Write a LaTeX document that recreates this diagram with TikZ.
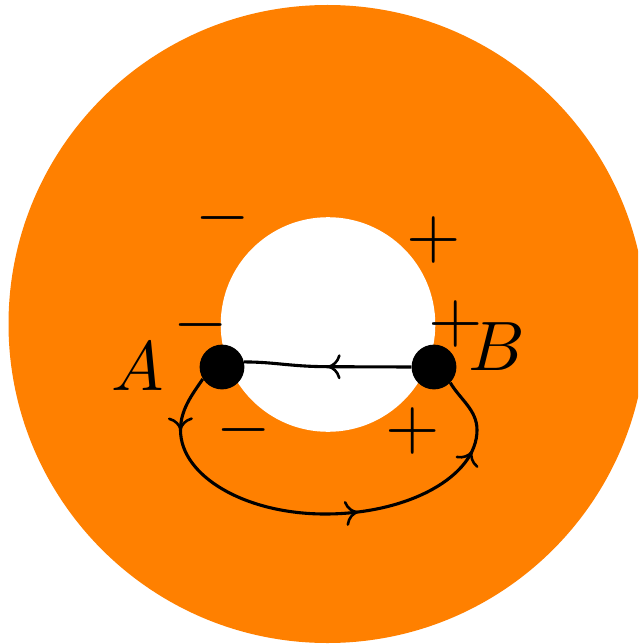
\documentclass[tikz,border=0pt]{standalone}
\usetikzlibrary{arrows.meta,decorations.markings}
\definecolor{diskorange}{RGB}{255,128,0}
\tikzset{
  mytip/.tip={Computer Modern Rightarrow[length=13pt,width=25pt,line width=2.6pt]},
  lab/.style={scale=7,inner sep=0pt},
  dotnode/.style={circle,fill=black,inner sep=0pt,minimum size=44.8pt},
  wire/.style={line width=3.1pt},
  midtip/.style={postaction={decorate,decoration={markings,mark=at position #1 with {\arrow{mytip}}}}},
  looptips/.style={postaction={decorate,decoration={markings,
     mark=at position 0.118 with {\arrow{mytip}},
     mark=at position 0.563 with {\arrow{mytip}},
     mark=at position 0.84 with {\arrow{mytip}}}}}
}
\begin{document}
\begin{tikzpicture}[x=1pt,y=1pt]
\useasboundingbox (0,0) rectangle (638,-644);
\clip (0,0) rectangle (638,-644);
\fill[white] (0,0) rectangle (638,-644);
\fill[diskorange] (327.5,-324) circle[radius=319];
\fill[white] (328,-324.5) circle[radius=107.3];
% points
\node[dotnode] (A) at (222,-367) {};
\node[dotnode] (B) at (434,-367) {};
\coordinate (L) at (180.5,-430);
\coordinate (Bt) at (325,-514);
\coordinate (R) at (477,-430);
\coordinate (M) at (327,-366.7);
% connectors
\draw[wire,midtip=0.5] (B.180) -- (M) .. controls (290,-366.5) and (275,-362) .. (A.13);
\draw[wire,looptips] (A.212) .. controls (191.5,-395.4) and (180.5,-410) .. (L)
  .. controls (180.5,-476) and (245,-514) .. (Bt)
  .. controls (409,-514) and (477,-476) .. (R)
  .. controls (477,-410) and (460.4,-399.7) .. (B.-44);
% labels
\node[lab] (m1) at (222.5,-218.3) {$-$};
\node[lab] (m2) at (200.5,-325) {$-$};
\node[lab] (m3) at (243.7,-430) {$-$};
\node[lab] (p1) at (434,-239.5) {$+$};
\node[lab] (p2) at (455.5,-324) {$+$};
\node[lab] (p3) at (412.5,-430.5) {$+$};
\node[lab] (la) at (138,-366.5) {$A$};
\node[lab] (lb) at (497,-347) {$B$};
\end{tikzpicture}
\end{document}
